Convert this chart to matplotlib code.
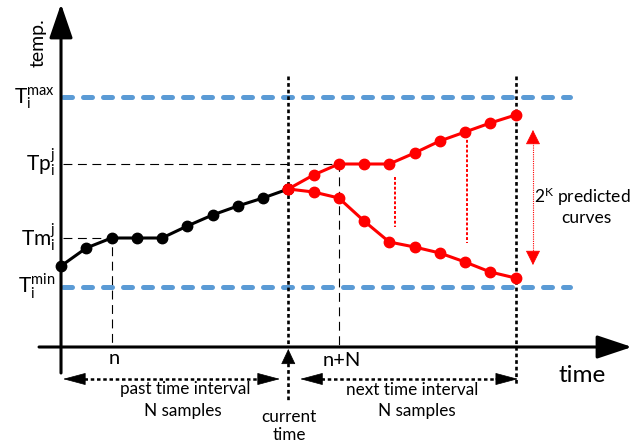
import matplotlib
matplotlib.use("Agg")
import matplotlib.pyplot as plt

plt.rcParams.update({
    "font.family": ["Lato", "DejaVu Sans"],
    "mathtext.fontset": "custom",
    "mathtext.rm": "Lato",
    "mathtext.it": "Lato:italic",
})

# sample indices: past interval 0..9, current time at 9, prediction 9..18
N = 9
n = 2
T_MAX = 25.0
T_MIN = 6.0
TP = 18.3
TM = 10.9

past_k = list(range(0, 10))
past_temp = [8.1, 9.9, 10.9, 10.9, 10.9, 12.1, 13.2, 14.1, 14.9, 15.8]

pred_k = list(range(9, 19))
upper_temp = [15.8, 17.2, 18.3, 18.3, 18.3, 19.4, 20.6, 21.5, 22.4, 23.2]
lower_temp = [15.8, 15.5, 14.9, 12.6, 10.5, 10.0, 9.4, 8.5, 7.5, 6.9]

# red dotted spreads between predicted curves: (k, from, to)
spread_k = [13.23, 16.08]
spread_top = [17.0, 21.2]
spread_bot = [12.0, 10.4]

BLUE = "#5B9BD5"
RED = "#FF0000"
DOT = (0, (1.4, 1.1))


def arrow(ax, tail, tip, hl, hw, color="black", lw=1.0):
    ax.annotate("", xy=tip, xytext=tail,
                arrowprops=dict(arrowstyle=f"-|>,head_length={hl},head_width={hw}",
                                color=color, lw=lw, shrinkA=0, shrinkB=0,
                                mutation_scale=10))


fig = plt.figure(figsize=(6.35, 4.48), dpi=100)
ax = fig.add_axes([0, 0, 1, 1])
ax.set_xlim(-2.416, 22.73)
ax.set_ylim(-10.1, 34.7)
ax.axis("off")

# limits
for lvl in (T_MAX, T_MIN):
    ax.plot([0.08, 20.16], [lvl, lvl], color=BLUE, lw=3.6, dashes=(1.8, 2.2),
            solid_capstyle="round", dash_capstyle="round", zorder=1)

# guides to Tp / Tm
ax.plot([0.08, n + N, n + N], [TP, TP, 0], color="black", lw=0.8, dashes=(8, 5), zorder=2)
ax.plot([0.08, n, n], [TM, TM, 0], color="black", lw=0.8, dashes=(8, 5), zorder=2)

# current time / end of horizon
ax.plot([N, N], [27.1, 0], color="black", lw=1.9, linestyle=DOT, zorder=2)
ax.plot([2 * N, 2 * N], [27.1, -3.8], color="black", lw=1.9, linestyle=DOT, zorder=2)

# axes
arrow(ax, (0, -2.6), (0, 34.3), 2.1, 0.72, lw=2.2)
arrow(ax, (-0.87, 0), (22.61, 0), 2.16, 0.72, lw=2.2)

# curves
ax.plot(past_k, past_temp, color="black", lw=2.2, marker="o", markersize=7.5, zorder=4)
ax.plot(pred_k, upper_temp, color=RED, lw=2.2, marker="o", markersize=7.5, zorder=5)
ax.plot(pred_k, lower_temp, color=RED, lw=2.2, marker="o", markersize=7.5, zorder=5)

for k, t0, t1 in zip(spread_k, spread_top, spread_bot):
    ax.plot([k, k], [t0, t1], color=RED, lw=1.4, linestyle=(0, (1.5, 1.0)), zorder=3)

# spread double arrow
ax.plot([18.69, 18.69], [9.0, 20.9], color=RED, lw=0.8, linestyle=(0, (1, 1)), zorder=3)
arrow(ax, (18.69, 20.5), (18.69, 21.7), 0.94, 0.47, color=RED, lw=0.5)
arrow(ax, (18.69, 9.4), (18.69, 8.2), 0.94, 0.47, color=RED, lw=0.5)

# interval arrows
ax.plot([0.9, 7.9], [-3.2, -3.2], color="black", lw=1.8, linestyle=DOT)
arrow(ax, (1.0, -3.2), (0.08, -3.2), 1.5, 0.4, lw=0.5)
arrow(ax, (7.8, -3.2), (8.67, -3.2), 1.5, 0.4, lw=0.5)
ax.plot([10.3, 17.3], [-3.2, -3.2], color="black", lw=1.8, linestyle=DOT)
arrow(ax, (10.4, -3.2), (9.47, -3.2), 1.5, 0.4, lw=0.5)
arrow(ax, (17.2, -3.2), (18.1, -3.2), 1.5, 0.4, lw=0.5)

# current time arrow
ax.plot([N, N], [-1.6, -5.5], color="black", lw=1.9, linestyle=DOT)
arrow(ax, (N, -1.7), (N, -0.2), 1.0, 0.47, lw=0.5)

# labels
ax.text(-0.9, 30.4, "temp.", rotation=90, ha="center", va="center", fontsize=14)
lab_x = -0.24
ax.text(lab_x, T_MAX - 0.75, r"$\mathregular{T_i^{max}}$", ha="right", va="baseline", fontsize=15)
ax.text(lab_x, TP - 0.65, r"$\mathregular{Tp_i^j}$", ha="right", va="baseline", fontsize=15)
ax.text(lab_x, TM - 0.75, r"$\mathregular{Tm_i^j}$", ha="right", va="baseline", fontsize=15)
ax.text(lab_x, T_MIN - 0.65, r"$\mathregular{T_i^{min}}$", ha="right", va="baseline", fontsize=15)

ax.text(2.1, -1.1, "n", ha="center", va="center", fontsize=14.5)
ax.text(11.1, -1.3, "n+N", ha="center", va="center", fontsize=14.5)
ax.text(20.63, -2.8, "time", ha="center", va="center", fontsize=17.5)

ax.text(4.91, -4.2, "past time interval", ha="center", va="center", fontsize=12.3)
ax.text(4.83, -6.4, "N samples", ha="center", va="center", fontsize=12.3)
ax.text(13.9, -4.3, "next time interval", ha="center", va="center", fontsize=12.3)
ax.text(14.1, -6.4, "N samples", ha="center", va="center", fontsize=12.3)
ax.text(9.03, -7.0, "current", ha="center", va="center", fontsize=12.3)
ax.text(9.03, -8.8, "time", ha="center", va="center", fontsize=12.3)

ax.text(22.55, 15.0, r"$\mathregular{2^K}$ predicted", ha="right", va="center", fontsize=12.5)
ax.text(20.8, 12.9, "curves", ha="center", va="center", fontsize=12.5)

fig.savefig("out.png", dpi=100)
